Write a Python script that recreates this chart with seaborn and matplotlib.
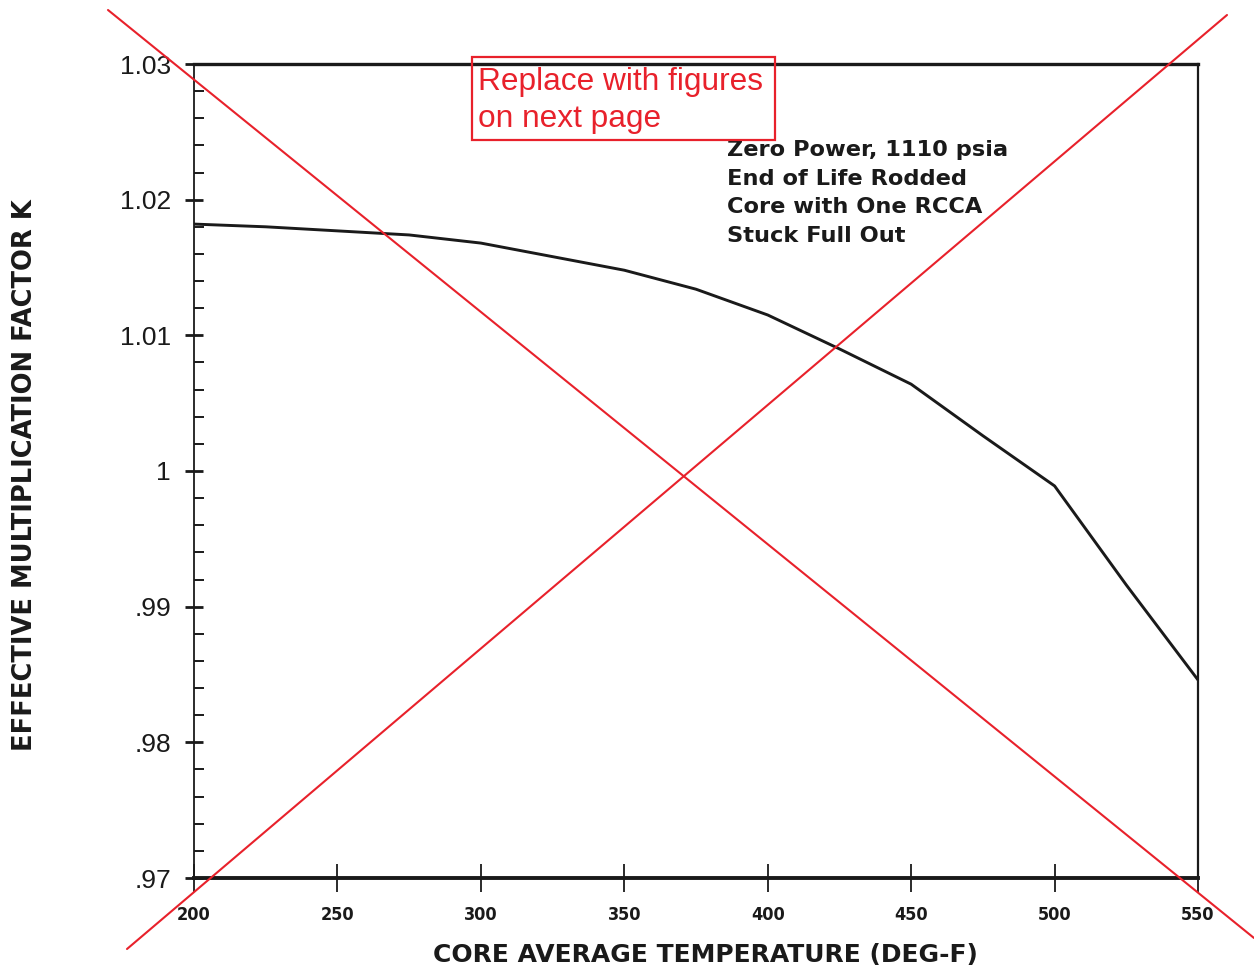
import matplotlib
matplotlib.use("Agg")
import matplotlib.pyplot as plt
from matplotlib.lines import Line2D
from matplotlib.patches import Rectangle
from matplotlib.ticker import MultipleLocator
import seaborn as sns
import pandas as pd

# ---- data ----
temperature = [200, 225, 250, 275, 300, 325, 350, 375, 400, 425, 450, 475, 500, 525, 550]
k_eff = [1.0182, 1.0180, 1.0177, 1.0174, 1.0168, 1.0158, 1.0148, 1.0134, 1.0115,
         1.0090, 1.0064, 1.0026, 0.9989, 0.9916, 0.9846]
x_ticks = [200, 250, 300, 350, 400, 450, 500, 550]
y_ticks = [0.97, 0.98, 0.99, 1.00, 1.01, 1.02, 1.03]
y_tick_labels = [".97", ".98", ".99", "1", "1.01", "1.02", "1.03"]
note_lines = ["Zero Power, 1110 psia", "End of Life Rodded",
              "Core with One RCCA", "Stuck Full Out"]
stamp_lines = ["Replace with figures", "on next page"]
x_label = "CORE AVERAGE TEMPERATURE (DEG-F)"
y_label = "EFFECTIVE MULTIPLICATION FACTOR K"

df = pd.DataFrame({"T": temperature, "K": k_eff})

sns.set_style("white")
plt.rcParams["font.family"] = ["DejaVu Sans"]

W, H = 1254, 968
fig = plt.figure(figsize=(W / 100, H / 100), dpi=100)
L, R, T, B = 194, 1198, 64, 878
ax = fig.add_axes([L / W, 1 - B / H, (R - L) / W, (B - T) / H])

ink = "#1a1a1a"
sns.lineplot(data=df, x="T", y="K", ax=ax, color=ink, linewidth=2.1)

ax.set_xlim(200, 550)
ax.set_ylim(0.97, 1.03)
ax.set_xticks(x_ticks)
ax.set_xticklabels([str(v) for v in x_ticks])
ax.set_yticks(y_ticks)
ax.set_yticklabels(y_tick_labels)
ax.yaxis.set_minor_locator(MultipleLocator(0.002))

for s in ax.spines.values():
    s.set_color(ink)
ax.spines["top"].set_linewidth(2.4)
ax.spines["bottom"].set_linewidth(2.8)
ax.spines["left"].set_linewidth(1.3)
ax.spines["right"].set_linewidth(1.6)

ax.tick_params(axis="y", which="both", left=True, right=False)
ax.tick_params(axis="x", which="both", bottom=True, top=False)
ax.tick_params(axis="y", which="major", direction="inout", length=13, width=2.0,
               pad=10, labelsize=19, colors=ink)
ax.tick_params(axis="y", which="minor", direction="in", length=7, width=1.4,
               colors=ink)
ax.tick_params(axis="x", which="major", direction="inout", length=20, width=1.3,
               pad=10, colors=ink)
for lab in ax.get_xticklabels():
    lab.set_fontsize(13)
    lab.set_fontweight("heavy")
    lab.set_fontstretch("condensed")
for lab in ax.get_yticklabels():
    lab.set_family(["Liberation Sans", "DejaVu Sans"])

ax.set_xlabel(x_label, fontsize=18, fontweight="heavy", color=ink)
ax.set_ylabel(y_label, fontsize=18.5, fontweight="heavy", color=ink)
ax.xaxis.set_label_coords((705 - L) / (R - L), (B - 943) / (B - T))
ax.yaxis.set_label_coords((38 - L) / (R - L), (B - 475) / (B - T))

# annotation block
for i, line in enumerate(note_lines):
    y_px = 150 + i * 28.7
    ax.text((727 - L) / (R - L), (B - y_px) / (B - T), line, transform=ax.transAxes,
            ha="left", va="center", fontsize=16.2, fontweight="heavy", color=ink)

# red stamp box
red = "#e8212b"
fig.add_artist(Rectangle((472 / W, 1 - 140 / H), (775 - 472) / W, (140 - 57) / H,
                         transform=fig.transFigure, fill=False, edgecolor=red, linewidth=1.6))
for i, line in enumerate(stamp_lines):
    fig.text(478 / W, 1 - (90 + i * 37) / H, line, ha="left", va="baseline",
             fontsize=22.8, color=red, family=["Liberation Sans", "DejaVu Sans"])

# red cross-out lines
fig.add_artist(Line2D([108 / W, 1254 / W], [1 - 10 / H, 1 - 938 / H],
                      transform=fig.transFigure, color=red, linewidth=1.5))
fig.add_artist(Line2D([1227 / W, 127 / W], [1 - 15 / H, 1 - 949 / H],
                      transform=fig.transFigure, color=red, linewidth=1.5))

fig.savefig("out.png", dpi=100, facecolor="white")
